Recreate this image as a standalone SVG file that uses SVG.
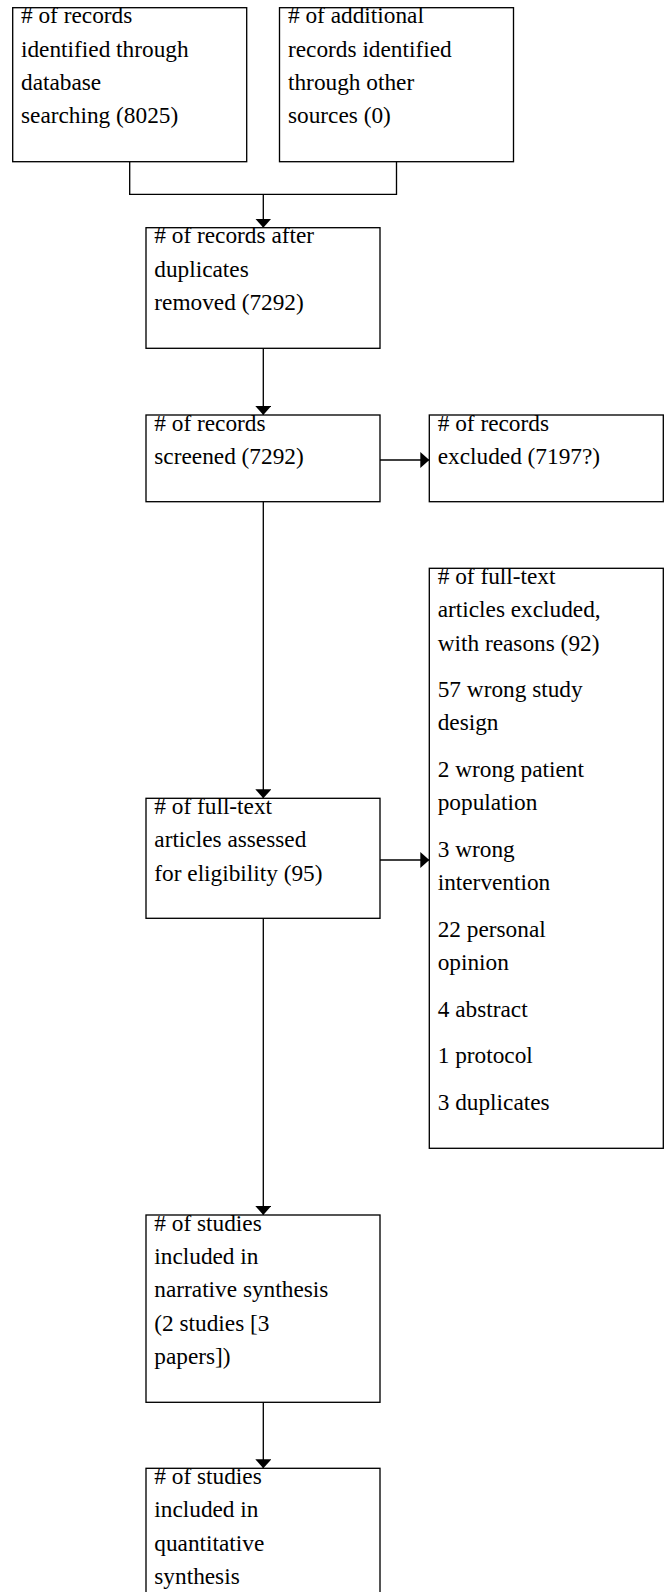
<svg xmlns="http://www.w3.org/2000/svg" width="664" height="1592" viewBox="0 0 664 1592">
<style>
.box{fill:#fff;stroke:#000;stroke-width:1.33}
.t{font-size:23.3px;fill:#000}
.c{fill:none;stroke:#000;stroke-width:1.33}
</style>
<defs>
<marker id="ah" markerUnits="userSpaceOnUse" markerWidth="9" markerHeight="16" viewBox="0 0 9 16" refX="9" refY="8" orient="auto">
<path d="M0,0 L9,8 L0,16 Z" fill="#000"/>
</marker>
</defs>
<rect width="664" height="1592" fill="#fff"/>
<g id="connectors">
<path class="c" d="M129.7,161.7 V194.3 H396.5 V161.7"/>
<path class="c" d="M263.3,194.3 V227.7" marker-end="url(#ah)"/>
<path class="c" d="M263.3,348.3 V415" marker-end="url(#ah)"/>
<path class="c" d="M380,460 H429.3" marker-end="url(#ah)"/>
<path class="c" d="M263.3,501.7 V798.3" marker-end="url(#ah)"/>
<path class="c" d="M380,860 H429.3" marker-end="url(#ah)"/>
<path class="c" d="M263.3,918.3 V1215" marker-end="url(#ah)"/>
<path class="c" d="M263.3,1402.3 V1468.3" marker-end="url(#ah)"/>
</g>
<g font-family="Liberation Serif, Tinos, 'Times New Roman', 'DejaVu Serif', serif">
<g id="n1">
<rect class="box" x="12.7" y="7.7" width="234" height="154"/>
<text class="t">
<tspan x="21" y="23.3"># of records</tspan>
<tspan x="21" y="56.7">identified through</tspan>
<tspan x="21" y="90">database</tspan>
<tspan x="21" y="123.3">searching (8025)</tspan>
</text>
</g>
<g id="n2">
<rect class="box" x="279.5" y="7.7" width="234" height="154"/>
<text class="t">
<tspan x="288" y="23.3"># of additional</tspan>
<tspan x="288" y="56.7">records identified</tspan>
<tspan x="288" y="90">through other</tspan>
<tspan x="288" y="123.3">sources (0)</tspan>
</text>
</g>
<g id="n3">
<rect class="box" x="146" y="227.7" width="234" height="120.6"/>
<text class="t">
<tspan x="154.3" y="243.3"># of records after</tspan>
<tspan x="154.3" y="276.7">duplicates</tspan>
<tspan x="154.3" y="310">removed (7292)</tspan>
</text>
</g>
<g id="n4">
<rect class="box" x="146" y="415" width="234" height="86.7"/>
<text class="t">
<tspan x="154.3" y="430.6"># of records</tspan>
<tspan x="154.3" y="464">screened (7292)</tspan>
</text>
</g>
<g id="n5">
<rect class="box" x="429.3" y="415" width="234" height="86.7"/>
<text class="t">
<tspan x="437.7" y="430.6"># of records</tspan>
<tspan x="437.7" y="464">excluded (7197?)</tspan>
</text>
</g>
<g id="n6">
<rect class="box" x="429.3" y="568.3" width="234" height="580"/>
<text class="t">
<tspan x="437.7" y="583.9"># of full-text</tspan>
<tspan x="437.7" y="617.2">articles excluded,</tspan>
<tspan x="437.7" y="650.5">with reasons (92)</tspan>
<tspan x="437.7" y="697">57 wrong study</tspan>
<tspan x="437.7" y="730.3">design</tspan>
<tspan x="437.7" y="776.9">2 wrong patient</tspan>
<tspan x="437.7" y="810.2">population</tspan>
<tspan x="437.7" y="856.8">3 wrong</tspan>
<tspan x="437.7" y="890.1">intervention</tspan>
<tspan x="437.7" y="936.7">22 personal</tspan>
<tspan x="437.7" y="970">opinion</tspan>
<tspan x="437.7" y="1016.6">4 abstract</tspan>
<tspan x="437.7" y="1063.2">1 protocol</tspan>
<tspan x="437.7" y="1109.8">3 duplicates</tspan>
</text>
</g>
<g id="n7">
<rect class="box" x="146" y="798.3" width="234" height="120"/>
<text class="t">
<tspan x="154.3" y="813.9"># of full-text</tspan>
<tspan x="154.3" y="847.2">articles assessed</tspan>
<tspan x="154.3" y="880.5">for eligibility (95)</tspan>
</text>
</g>
<g id="n8">
<rect class="box" x="146" y="1215" width="234" height="187.3"/>
<text class="t">
<tspan x="154.3" y="1230.6"># of studies</tspan>
<tspan x="154.3" y="1263.9">included in</tspan>
<tspan x="154.3" y="1297.2">narrative synthesis</tspan>
<tspan x="154.3" y="1330.5">(2 studies [3</tspan>
<tspan x="154.3" y="1363.8">papers])</tspan>
</text>
</g>
<g id="n9">
<rect class="box" x="146" y="1468.3" width="234" height="160"/>
<text class="t">
<tspan x="154.3" y="1483.9"># of studies</tspan>
<tspan x="154.3" y="1517.2">included in</tspan>
<tspan x="154.3" y="1550.5">quantitative</tspan>
<tspan x="154.3" y="1583.8">synthesis</tspan>
</text>
</g>
</g>
</svg>
